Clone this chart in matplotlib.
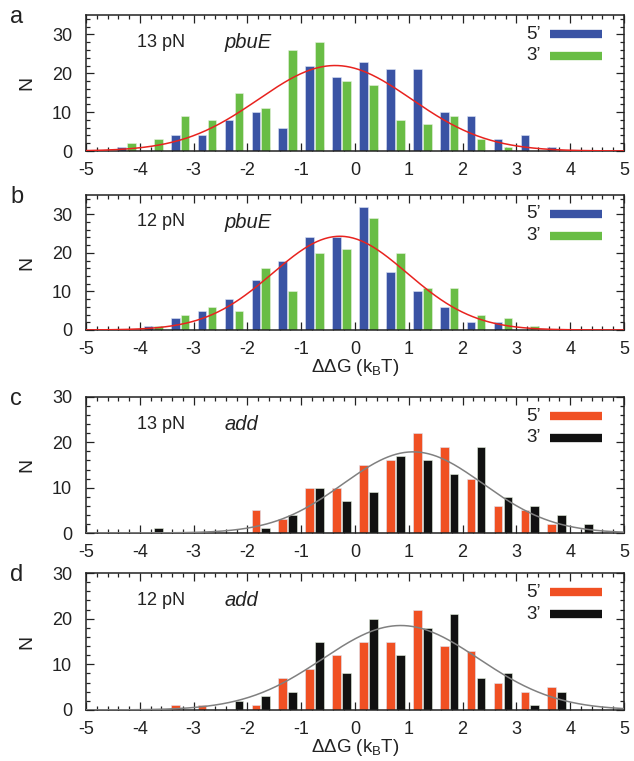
import numpy as np
import matplotlib
matplotlib.use("Agg")
import matplotlib.pyplot as plt
from matplotlib.ticker import MultipleLocator

plt.rcParams['font.family'] = ['Liberation Sans', 'DejaVu Sans']
plt.rcParams['mathtext.default'] = 'regular'

# bin centres (kBT), 0.5 wide bins
bins = [-4.25, -3.75, -3.25, -2.75, -2.25, -1.75, -1.25, -0.75, -0.25,
        0.25, 0.75, 1.25, 1.75, 2.25, 2.75, 3.25, 3.75, 4.25]

# panel a: pbuE 13 pN
a_5p = [1, 0, 4, 4, 8, 10, 6, 22, 19, 23, 21, 21, 10, 9, 3, 4, 1, 0]
a_3p = [2, 3, 9, 8, 15, 11, 26, 28, 18, 17, 8, 7, 9, 3, 1, 0, 0, 0]
# panel b: pbuE 12 pN
b_5p = [0, 1, 3, 5, 8, 13, 18, 24, 24, 32, 15, 10, 6, 2, 2, 0, 0, 0]
b_3p = [0, 1, 4, 6, 5, 16, 10, 20, 21, 29, 20, 11, 11, 4, 3, 1, 0, 0]
# panel c: add 13 pN
c_5p = [0, 0, 0, 0, 0, 5, 3, 10, 10, 15, 16, 22, 19, 12, 6, 5, 2, 0]
c_3p = [0, 1, 0, 0, 0, 1, 4, 10, 7, 9, 17, 16, 13, 19, 8, 6, 4, 2]
# panel d: add 12 pN
d_5p = [0, 0, 1, 1, 0, 1, 7, 9, 12, 15, 15, 22, 14, 13, 6, 4, 5, 0]
d_3p = [0, 0, 0, 0, 2, 3, 4, 15, 8, 20, 12, 18, 21, 7, 8, 1, 4, 0]

# gaussian fits (amplitude, mean, sigma)
fit_a = (22.0, -0.37, 1.42)
fit_b = (24.3, -0.28, 1.25)
fit_c = (17.9, 1.08, 1.30)
fit_d = (18.5, 0.85, 1.45)

xticks = [-5, -4, -3, -2, -1, 0, 1, 2, 3, 4, 5]
force_labels = ['13 pN', '12 pN', '13 pN', '12 pN']
rna_labels = ['pbuE', 'pbuE', 'add', 'add']
panel_letters = ['a', 'b', 'c', 'd']

W, H = 634, 761
fig = plt.figure(figsize=(W / 100, H / 100), dpi=100)

# axes boxes in pixels: (top, bottom)
boxes = [(15, 151), (195, 330), (397, 533), (573, 710)]
left_px, right_px = 86, 624

panels = [
    (a_5p, a_3p, fit_a, '#3a53a4', '#69bd45', '#e8231f', 35),
    (b_5p, b_3p, fit_b, '#3a53a4', '#69bd45', '#e8231f', 35),
    (c_5p, c_3p, fit_c, '#f05023', '#111111', '#808080', 30),
    (d_5p, d_3p, fit_d, '#f05023', '#111111', '#808080', 30),
]

xs = np.linspace(-5, 5, 400)
bw = 0.16
off = 0.092

for i, (s5, s3, fit, c5, c3, cfit, ytop) in enumerate(panels):
    top, bot = boxes[i]
    ax = fig.add_axes([left_px / W, 1 - bot / H, (right_px - left_px) / W, (bot - top) / H])
    x = np.array(bins)
    ax.bar(x - off, s5, width=bw, color=c5, edgecolor='#dde6f5', linewidth=0.4, zorder=2)
    ax.bar(x + off, s3, width=bw, color=c3, edgecolor='#e8f2e0', linewidth=0.4, zorder=2)
    amp, mu, sig = fit
    ax.plot(xs, amp * np.exp(-(xs - mu) ** 2 / (2 * sig ** 2)), color=cfit, lw=1.1, zorder=3)

    ax.set_xlim(-5, 5)
    ax.set_ylim(0, ytop)
    ax.set_xticks(xticks)
    ax.set_xticklabels([str(v) for v in xticks])
    ax.xaxis.set_minor_locator(MultipleLocator(0.2))
    ax.set_yticks([0, 10, 20, 30])
    ax.yaxis.set_minor_locator(MultipleLocator(2))
    ax.tick_params(which='both', direction='in', top=True, right=True, labelsize=13,
                   width=0.9, colors='#222222')
    ax.tick_params(which='major', length=6)
    ax.tick_params(which='minor', length=3)
    ax.tick_params(axis='x', which='major', pad=8)
    ax.tick_params(axis='y', which='major', pad=10)
    for sp in ax.spines.values():
        sp.set_linewidth(1.1)
        sp.set_color('#222222')

    ax.set_ylabel('N', fontsize=14, labelpad=12, color='#222222')
    if i in (1, 3):
        ax.set_xlabel(r'ΔΔG (k$_{B}$T)', fontsize=13.5, labelpad=-1, color='#222222')

    ax.text(0.095, 0.80, force_labels[i], transform=ax.transAxes, fontsize=13,
            ha='left', va='center', color='#222222')
    ax.text(0.258, 0.80, rna_labels[i], transform=ax.transAxes, fontsize=14.5,
            style='italic', ha='left', va='center', color='#222222')

    # legend
    ax.text(0.845, 0.86, '5’', transform=ax.transAxes, fontsize=13.5, ha='right', va='center',
            color='#222222')
    ax.text(0.845, 0.70, '3’', transform=ax.transAxes, fontsize=13.5, ha='right', va='center',
            color='#222222')
    ax.plot([0.862, 0.96], [0.86, 0.86], transform=ax.transAxes, color=c5, lw=6,
            solid_capstyle='butt', zorder=4)
    ax.plot([0.862, 0.96], [0.70, 0.70], transform=ax.transAxes, color=c3, lw=6,
            solid_capstyle='butt', zorder=4)

    fig.text(10 / W, 1 - (top + 2) / H, panel_letters[i], fontsize=17, ha='left', va='center',
             color='#222222')

fig.savefig('out.png', dpi=100)
